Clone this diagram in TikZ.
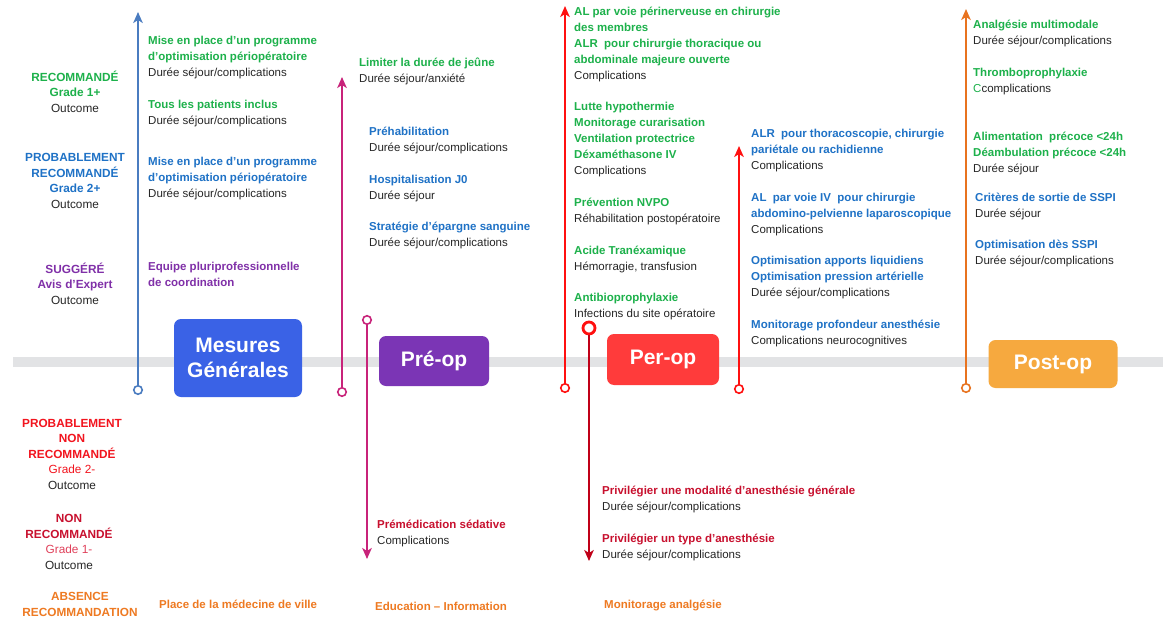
\documentclass[tikz,border=0pt]{standalone}
\usepackage{fontspec}
\setmainfont{Liberation Sans}
\usetikzlibrary{arrows.meta}
\definecolor{cgreen}{HTML}{1DB14B}
\definecolor{cblue}{HTML}{1F72C6}
\definecolor{cpurple}{HTML}{8030A8}
\definecolor{cred}{HTML}{F2141E}
\definecolor{cdred}{HTML}{C8102E}
\definecolor{cpink}{HTML}{E0405A}
\definecolor{corange}{HTML}{EE7A22}
\definecolor{ctext}{HTML}{262626}
\definecolor{cbar}{HTML}{E2E3E5}
\definecolor{aBlue}{HTML}{4A7CC0}
\definecolor{aMag}{HTML}{C8237A}
\definecolor{aRed}{HTML}{FF1010}
\definecolor{aDred}{HTML}{C00018}
\definecolor{aOrange}{HTML}{E8731F}
\definecolor{bBlue}{HTML}{3A62E6}
\definecolor{bPurple}{HTML}{7B35B5}
\definecolor{bRed}{HTML}{FF3B3B}
\definecolor{bOrange}{HTML}{F6A93F}
\newcommand\itfont{\fontsize{11.5}{15.8}\selectfont}
\newcommand\lbfont{\fontsize{11.8}{15.4}\selectfont}
\newcommand\phfont{\fontsize{21}{25}\selectfont\bfseries}
\newcommand\tG[1]{{\bfseries\color{cgreen}#1}}
\newcommand\tB[1]{{\bfseries\color{cblue}#1}}
\newcommand\tP[1]{{\bfseries\color{cpurple}#1}}
\newcommand\tR[1]{{\bfseries\color{cred}#1}}
\newcommand\tD[1]{{\bfseries\color{cdred}#1}}
\newcommand\tO[1]{{\bfseries\color{corange}#1}}
\tikzset{
  lbl/.style={font=\lbfont, align=center, inner sep=0, anchor=base, text=ctext},
  item/.style={font=\itfont, align=left, inner sep=0, anchor=base west, text=ctext},
  phase/.style={rounded corners=7pt, text=white, font=\phfont, align=center, inner sep=0},
  tailc/.style={circle, draw, fill=white, line width=1.6pt, minimum size=8.5pt, inner sep=0},
  bigtail/.style={circle, draw, fill=white, line width=2.8pt, minimum size=12pt, inner sep=0},
  arr/.style={line width=1.9pt, -{Stealth[length=11pt,width=9.5pt,inset=3pt]}}
}
\begin{document}
\begin{tikzpicture}[x=1pt,y=-1pt]
\useasboundingbox (0,0) rectangle (1163,621);
\fill[white] (0,0) rectangle (1163,621);
% timeline bar
\fill[cbar] (13,357) rectangle (1163,367);

% arrows
\node[tailc, draw=aBlue] (cB) at (138,390) {};
\coordinate (tB) at (138,12);
\draw[arr, aBlue] (cB) -- (tB);

\node[tailc, draw=aMag] (cM1) at (342,392) {};
\coordinate (tM1) at (342,77);
\draw[arr, aMag] (cM1) -- (tM1);

\node[tailc, draw=aMag] (cM2) at (367,320) {};
\coordinate (tM2) at (367,559);
\draw[arr, aMag] (cM2) -- (tM2);

\node[tailc, draw=aRed] (cR1) at (565,388) {};
\coordinate (tR1) at (565,6);
\draw[arr, aRed] (cR1) -- (tR1);

\node[bigtail, draw=aRed] (cR2) at (589,328) {};
\coordinate (tR2) at (589,561);
\draw[arr, aDred] (cR2) -- (tR2);

\node[tailc, draw=aRed] (cR3) at (739,389) {};
\coordinate (tR3) at (739,146);
\draw[arr, aRed] (cR3) -- (tR3);

\node[tailc, draw=aOrange] (cO) at (966,388) {};
\coordinate (tO) at (966,9);
\draw[arr, aOrange] (cO) -- (tO);

% phase boxes
\node[phase, fill=bBlue, minimum width=128pt, minimum height=78pt] (pMG) at (238,358) {Mesures\\Générales};
\node[phase, fill=bPurple, minimum width=110pt, minimum height=50pt] (pPre) at (434,361) {Pré-op};
\node[phase, fill=bRed, minimum width=112pt, minimum height=51pt] (pPer) at (663,359.5) {Per-op};
\node[phase, fill=bOrange, minimum width=129pt, minimum height=48pt] (pPost) at (1053,364) {Post-op};

% left labels (anchor = baseline of last line)
\node[lbl] (lRec) at (75,112) {\tG{RECOMMANDÉ}\\\tG{Grade 1+}\\Outcome};
\node[lbl] (lProb) at (75,208) {\tB{PROBABLEMENT}\\\tB{RECOMMANDÉ}\\\tB{Grade 2+}\\Outcome};
\node[lbl] (lSug) at (75,304) {\tP{SUGGÉRÉ}\\\tP{Avis d'Expert}\\Outcome};
\node[lbl] (lPnr) at (72,489) {\tR{PROBABLEMENT}\\\tR{NON}\\\tR{RECOMMANDÉ}\\{\color{cred}Grade 2-}\\Outcome};
\node[lbl] (lNr) at (69,569) {\tD{NON}\\\tD{RECOMMANDÉ}\\{\color{cpink}Grade 1-}\\Outcome};
\node[lbl] (lAbs) at (80,616) {\tO{ABSENCE}\\\tO{RECOMMANDATION}};

% Mesures generales column
\node[item] (m1) at (148,76) {\tG{Mise en place d'un programme}\\\tG{d'optimisation périopératoire}\\Durée séjour/complications};
\node[item] (m2) at (148,124) {\tG{Tous les patients inclus}\\Durée séjour/complications};
\node[item] (m3) at (148,197) {\tB{Mise en place d'un programme}\\\tB{d'optimisation périopératoire}\\Durée séjour/complications};
\node[item] (m4) at (148,286) {\tP{Equipe pluriprofessionnelle}\\\tP{de coordination}};
\node[item] (m5) at (159,608) {\tO{Place de la médecine de ville}};

% Pre-op column
\node[item] (p1) at (359,82) {\tG{Limiter la durée de jeûne}\\Durée séjour/anxiété};
\node[item] (p2) at (369,151) {\tB{Préhabilitation}\\Durée séjour/complications};
\node[item] (p3) at (369,199) {\tB{Hospitalisation J0}\\Durée séjour};
\node[item] (p4) at (369,246) {\tB{Stratégie d'épargne sanguine}\\Durée séjour/complications};
\node[item] (p5) at (377,544) {\tD{Prémédication sédative}\\Complications};
\node[item] (p6) at (375,610) {\tO{Education – Information}};

% Per-op column 1
\node[item] (r1) at (574,79) {\tG{AL par voie périnerveuse en chirurgie}\\\tG{des membres}\\\tG{ALR\ \ pour chirurgie thoracique ou}\\\tG{abdominale majeure ouverte}\\Complications};
\node[item] (r2) at (574,174) {\tG{Lutte hypothermie}\\\tG{Monitorage curarisation}\\\tG{Ventilation protectrice}\\\tG{Déxaméthasone IV}\\Complications};
\node[item] (r3) at (574,222) {\tG{Prévention NVPO}\\Réhabilitation postopératoire};
\node[item] (r4) at (574,270) {\tG{Acide Tranéxamique}\\Hémorragie, transfusion};
\node[item] (r5) at (574,317) {\tG{Antibioprophylaxie}\\Infections du site opératoire};
\node[item] (r6) at (602,510) {\tD{Privilégier une modalité d'anesthésie générale}\\Durée séjour/complications};
\node[item] (r7) at (602,558) {\tD{Privilégier un type d'anesthésie}\\Durée séjour/complications};
\node[item] (r8) at (604,608) {\tO{Monitorage analgésie}};

% Per-op column 2
\node[item] (s1) at (751,169) {\tB{ALR\ \ pour thoracoscopie, chirurgie}\\\tB{pariétale ou rachidienne}\\Complications};
\node[item] (s2) at (751,233) {\tB{AL\ \ par voie IV\ \ pour chirurgie}\\\tB{abdomino-pelvienne laparoscopique}\\Complications};
\node[item] (s3) at (751,296) {\tB{Optimisation apports liquidiens}\\\tB{Optimisation pression artérielle}\\Durée séjour/complications};
\node[item] (s4) at (751,344) {\tB{Monitorage profondeur anesthésie}\\Complications neurocognitives};

% Post-op column
\node[item] (o1) at (973,44) {\tG{Analgésie multimodale}\\Durée séjour/complications};
\node[item] (o2) at (973,92) {\tG{Thromboprophylaxie}\\{\color{cgreen}C}complications};
\node[item] (o3) at (973,172) {\tG{Alimentation\ \ précoce <24h}\\\tG{Déambulation précoce <24h}\\Durée séjour};
\node[item] (o4) at (975,217) {\tB{Critères de sortie de SSPI}\\Durée séjour};
\node[item] (o5) at (975,264) {\tB{Optimisation dès SSPI}\\Durée séjour/complications};
\end{tikzpicture}
\end{document}
